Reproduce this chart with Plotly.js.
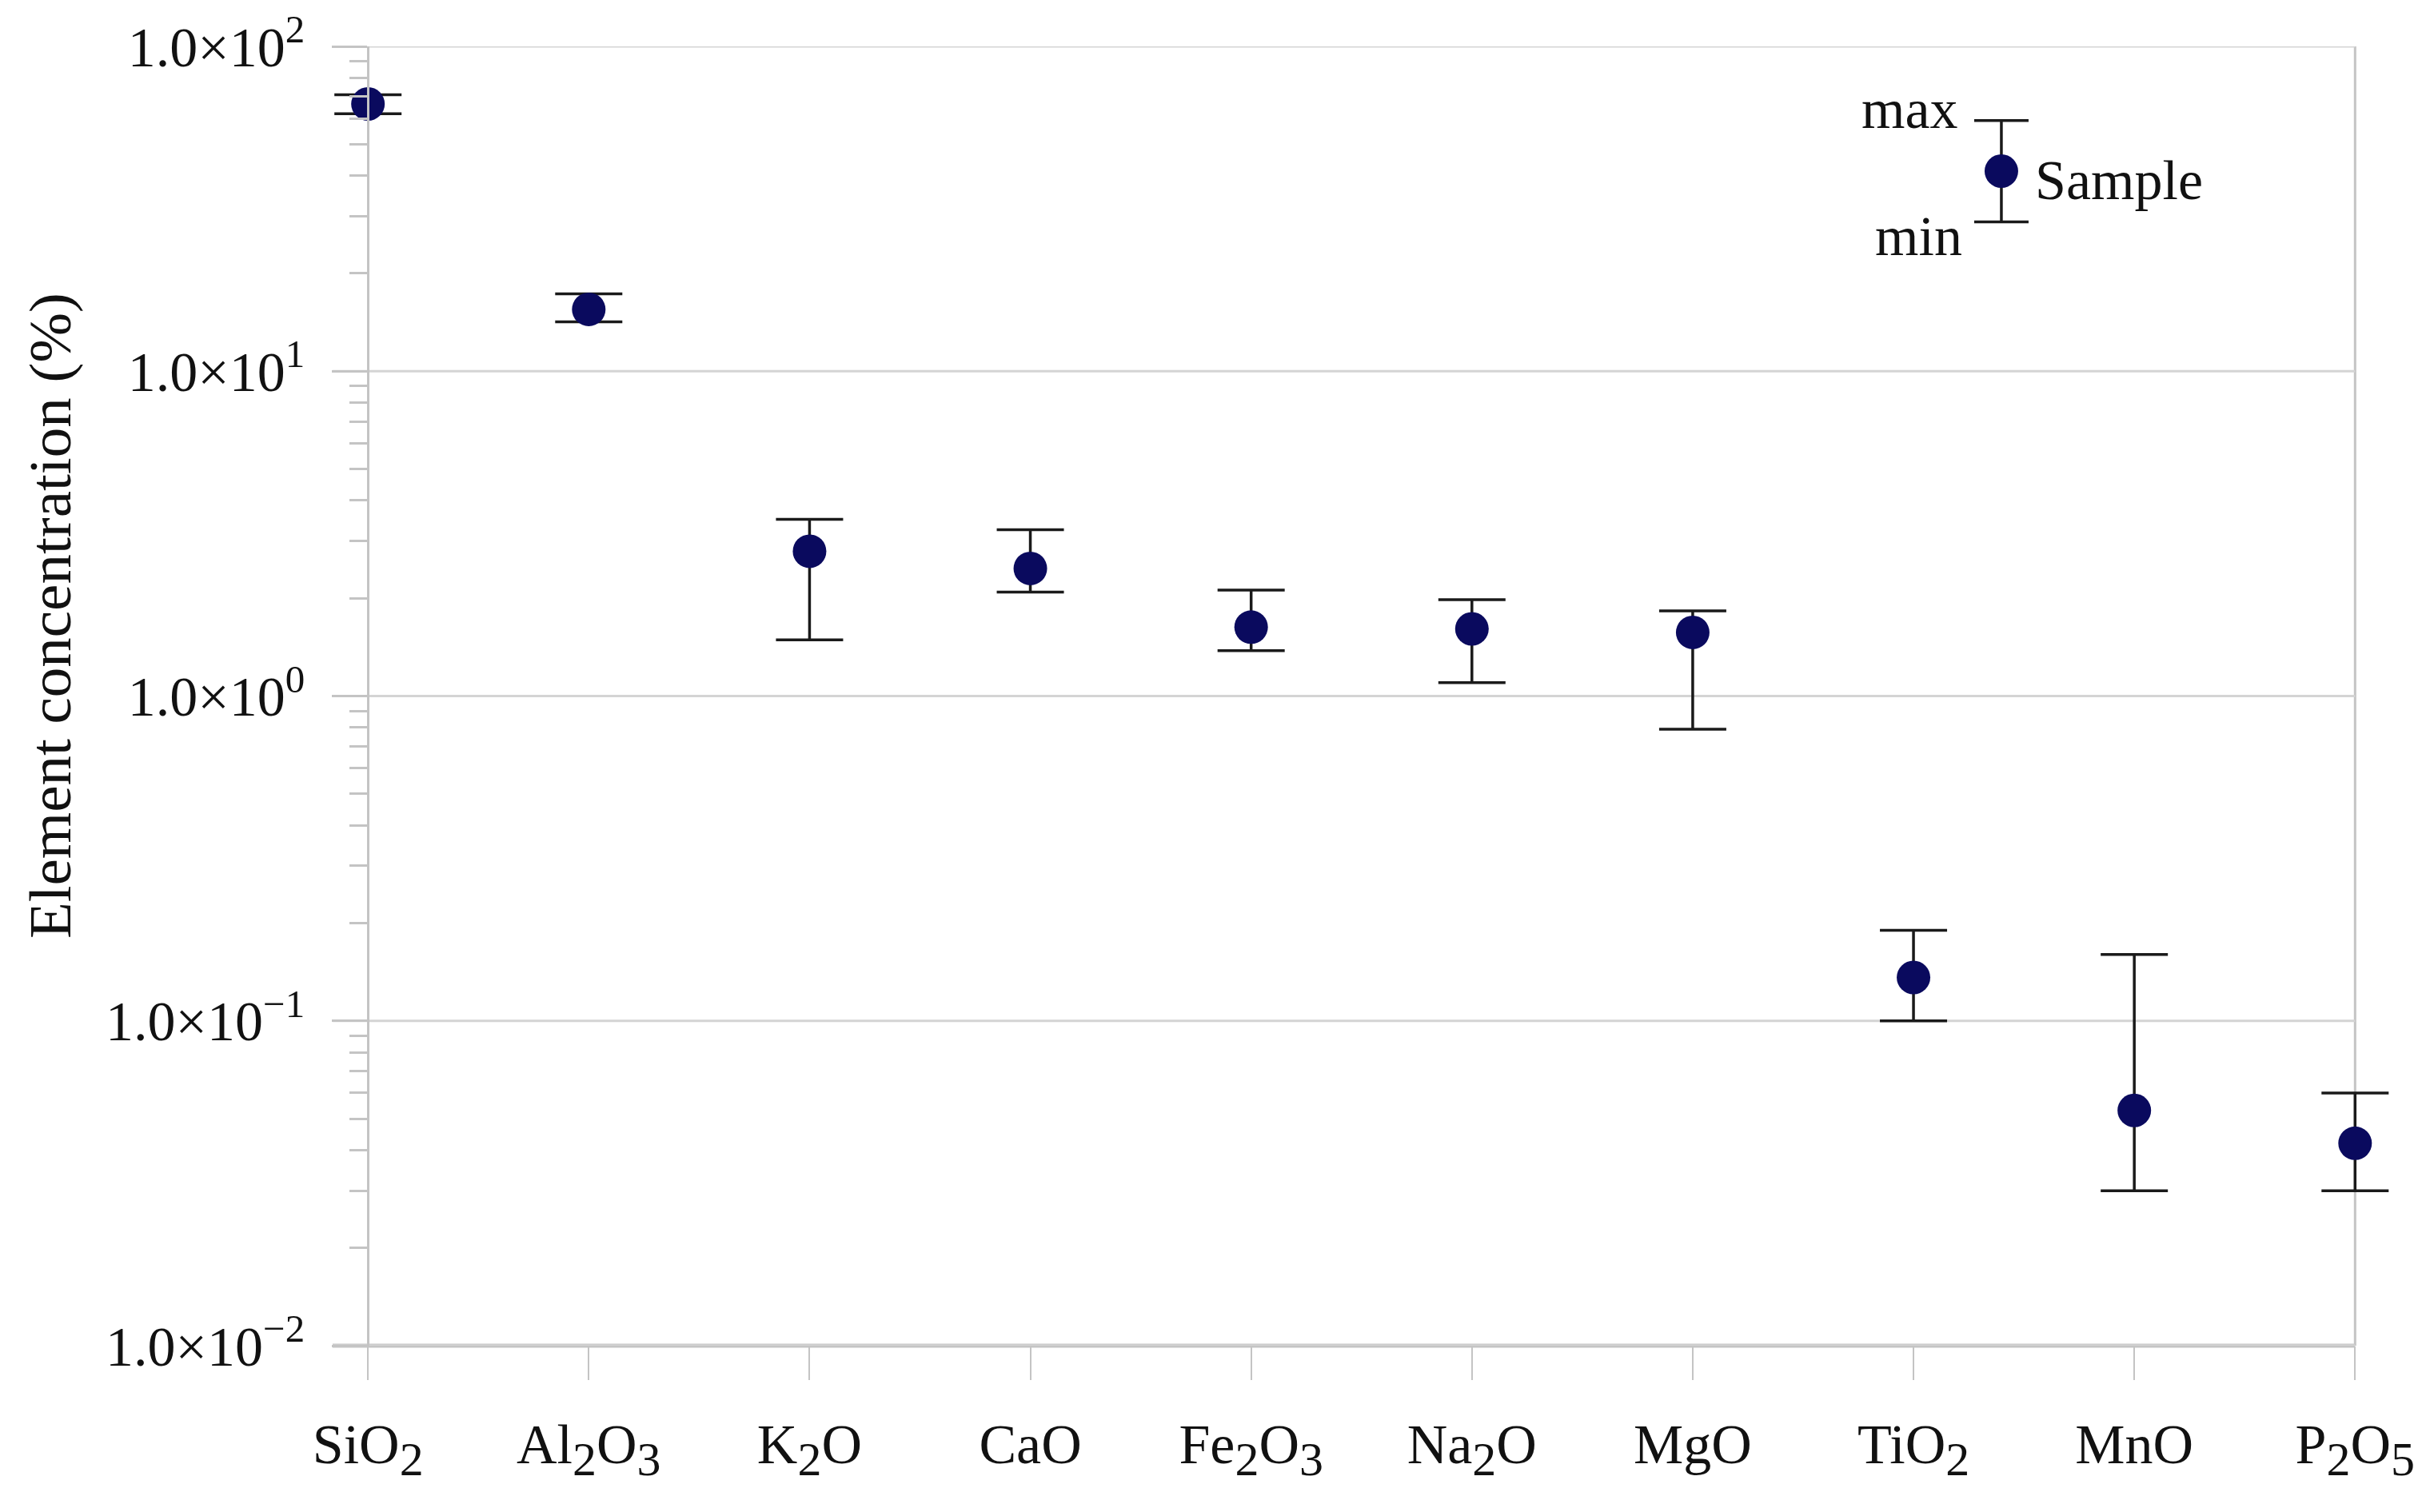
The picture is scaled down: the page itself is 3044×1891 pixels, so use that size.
<!DOCTYPE html>
<html>
<head>
<meta charset="utf-8">
<script src="https://cdn.plot.ly/plotly-3.0.1.min.js"></script>
<style>
  html, body { margin: 0; padding: 0; background: #ffffff; }
  #chart { width: 3044px; height: 1891px; }
</style>
</head>
<body>
<div id="chart"></div>
<script>
// ---- data ----
const SUB = n => "<sub><span style=\"font-size:60px\">" + n + "</span></sub>";
const oxides = ["SiO" + SUB(2), "Al" + SUB(2) + "O" + SUB(3), "K" + SUB(2) + "O", "CaO",
                "Fe" + SUB(2) + "O" + SUB(3), "Na" + SUB(2) + "O", "MgO", "TiO" + SUB(2),
                "MnO", "P" + SUB(2) + "O" + SUB(5)];
const sampleValues = [66.5, 15.5, 2.79, 2.47, 1.63, 1.61, 1.57, 0.136, 0.053, 0.042];
const maxValues    = [71.0, 17.3, 3.50, 3.25, 2.12, 1.98, 1.83, 0.190, 0.160, 0.060];
const minValues    = [62.0, 14.2, 1.49, 2.09, 1.38, 1.10, 0.79, 0.100, 0.030, 0.030];

const yTickValues = [0.01, 0.1, 1, 10, 100];
const yTickLabels = ["1.0×10<sup>−2</sup>", "1.0×10<sup>−1</sup>", "1.0×10<sup>0</sup>",
                     "1.0×10<sup>1</sup>", "1.0×10<sup>2</sup>"];
const yMinorValues = [];
[0.01, 0.1, 1, 10].forEach(d => { for (let k = 2; k <= 9; k++) yMinorValues.push(d * k); });

// legend key (in its own 0..1 reference box)
const keyX = [0.822];
const keyY = [0.904];
const keyUp = [0.039];
const keyDown = [0.039];

const errPlus = maxValues.map((v, i) => v - sampleValues[i]);
const errMinus = sampleValues.map((v, i) => v - minValues[i]);

const FONT = "Liberation Serif, Times New Roman, serif";
const NAVY = "#0a0a5e";
const AXIS = "#c4c4c4";
const GRID = "#d4d4d4";

// plot area extends a little beyond first/last category so caps are not clipped
const PAD_L = 0.16, PAD_R = 0.18;
const nCat = oxides.length;
const left = 416, right = 49;               // margins (px)
const axisPos = PAD_L / (nCat - 1 + PAD_L + PAD_R);

const traces = [
  {
    type: "scatter", mode: "markers",
    x: oxides, y: sampleValues,
    marker: { color: NAVY, size: 42 },
    error_y: { type: "data", symmetric: false, array: errPlus, arrayminus: errMinus,
               color: "#1a1a1a", thickness: 3.5, width: 42 },
    cliponaxis: false, showlegend: false, hoverinfo: "skip"
  },
  {
    type: "scatter", mode: "markers",
    x: keyX, y: keyY, xaxis: "x2", yaxis: "y2",
    marker: { color: NAVY, size: 42 },
    error_y: { type: "data", symmetric: false, array: keyUp, arrayminus: keyDown,
               color: "#1a1a1a", thickness: 3.5, width: 34 },
    cliponaxis: false, showlegend: false, hoverinfo: "skip"
  }
];

// gridlines at each labelled decade, stopping at the right frame
const gridShapes = yTickValues.map(v => ({
  type: "line", xref: "x", yref: "y", x0: -PAD_L, x1: nCat - 1, y0: v, y1: v,
  line: { color: GRID, width: 3 }, layer: "below"
}));

const layout = {
  width: 3044, height: 1891,
  margin: { l: left, r: right, t: 58, b: 208 },
  paper_bgcolor: "#ffffff", plot_bgcolor: "#ffffff",
  font: { family: FONT, size: 70, color: "#111111" },
  showlegend: false,
  xaxis: {
    type: "category",
    categoryorder: "array", categoryarray: oxides,
    range: [-PAD_L, nCat - 1 + PAD_R],
    showgrid: false, zeroline: false, showline: false,
    ticks: "outside", ticklen: 42, tickwidth: 2, tickcolor: AXIS,
    tickfont: { family: FONT, size: 70, color: "#111111" },
    ticklabelstandoff: 20
  },
  yaxis: {
    type: "log",
    range: [-2, 2],
    anchor: "free", position: axisPos,
    tickmode: "array", tickvals: yTickValues, ticktext: yTickLabels,
    showgrid: false,
    zeroline: false,
    showline: true, linecolor: AXIS, linewidth: 3,
    ticks: "outside", ticklen: 44, tickwidth: 3, tickcolor: AXIS,
    tickfont: { family: FONT, size: 70, color: "#111111" },
    ticklabelstandoff: 20,
    minor: { tickmode: "array", tickvals: yMinorValues, ticks: "outside",
             ticklen: 22, tickwidth: 3, tickcolor: AXIS, showgrid: false }
  },
  xaxis2: { overlaying: "x", range: [0, 1], visible: false, fixedrange: true },
  yaxis2: { overlaying: "y", range: [0, 1], visible: false, fixedrange: true },
  shapes: gridShapes.concat([
    // right frame line
    { type: "line", xref: "x", yref: "paper", x0: nCat - 1, x1: nCat - 1, y0: 0, y1: 1,
      line: { color: AXIS, width: 3 }, layer: "below" },
    // bottom axis line
    { type: "line", xref: "x", yref: "paper", x0: -PAD_L, x1: nCat - 1, y0: 0, y1: 0,
      line: { color: AXIS, width: 5 }, layer: "below" }
  ]),
  annotations: [
    { text: "Element concentration (%)", xref: "paper", yref: "paper",
      x: -0.160, y: 0.5615, textangle: -90, showarrow: false,
      xanchor: "center", yanchor: "middle",
      font: { family: FONT, size: 75, color: "#111111" } },
    { text: "max", xref: "paper", yref: "paper", x: 0.801, y: 0.952,
      showarrow: false, xanchor: "right", yanchor: "middle",
      font: { family: FONT, size: 70, color: "#111111" } },
    { text: "min", xref: "paper", yref: "paper", x: 0.803, y: 0.854,
      showarrow: false, xanchor: "right", yanchor: "middle",
      font: { family: FONT, size: 70, color: "#111111" } },
    { text: "Sample", xref: "paper", yref: "paper", x: 0.838, y: 0.897,
      showarrow: false, xanchor: "left", yanchor: "middle",
      font: { family: FONT, size: 70, color: "#111111" } }
  ]
};

// paper-fraction positions above were measured against the reference plot frame
// (category 0 .. category 9); convert them to the padded plot area.
const frameL = axisPos, frameR = (nCat - 1 + PAD_L) / (nCat - 1 + PAD_L + PAD_R);
layout.annotations.forEach(a => { a.x = frameL + a.x * (frameR - frameL); });
layout.xaxis2.range = [-frameL / (frameR - frameL), 1 + (1 - frameR) / (frameR - frameL)];

Plotly.newPlot("chart", traces, layout, { staticPlot: true, displayModeBar: false });
</script>
</body>
</html>
